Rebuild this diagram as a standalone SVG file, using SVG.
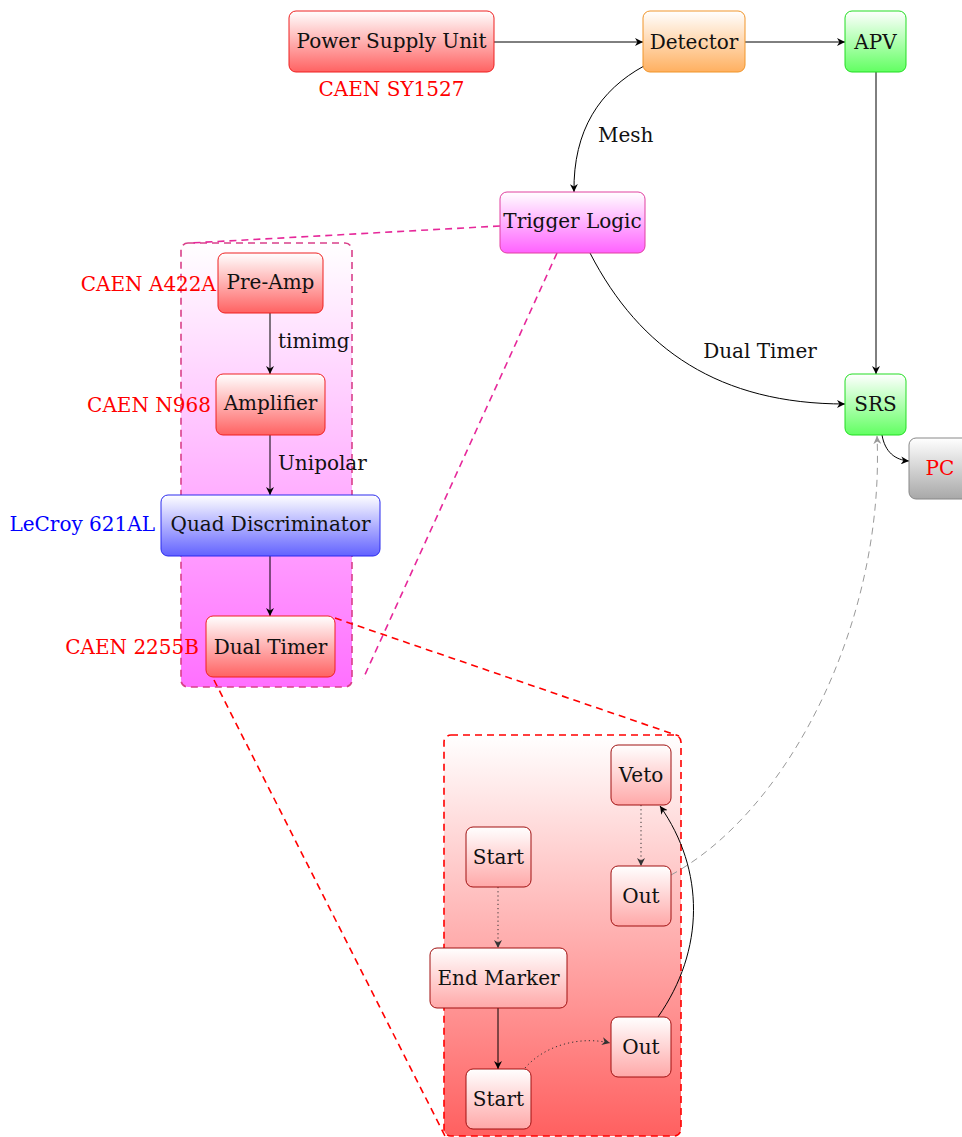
<svg xmlns="http://www.w3.org/2000/svg" width="962" height="1137" viewBox="0 0 962 1137">
<defs>
<linearGradient id="gRed" x1="0" y1="0" x2="0" y2="1"><stop offset="0" stop-color="#ffffff"/><stop offset="1" stop-color="#ff6262"/></linearGradient>
<linearGradient id="gRedL" x1="0" y1="0" x2="0" y2="1"><stop offset="0" stop-color="#ffffff"/><stop offset="1" stop-color="#ffa8a8"/></linearGradient>
<linearGradient id="gOr" x1="0" y1="0" x2="0" y2="1"><stop offset="0" stop-color="#ffffff"/><stop offset="1" stop-color="#ffb060"/></linearGradient>
<linearGradient id="gGr" x1="0" y1="0" x2="0" y2="1"><stop offset="0" stop-color="#ffffff"/><stop offset="1" stop-color="#62ff62"/></linearGradient>
<linearGradient id="gMag" x1="0" y1="0" x2="0" y2="1"><stop offset="0" stop-color="#ffffff"/><stop offset="1" stop-color="#ff62ff"/></linearGradient>
<linearGradient id="gMagC" x1="0" y1="0" x2="0" y2="1"><stop offset="0" stop-color="#ffffff"/><stop offset="1" stop-color="#ff70ff"/></linearGradient>
<linearGradient id="gBl" x1="0" y1="0" x2="0" y2="1"><stop offset="0" stop-color="#ffffff"/><stop offset="1" stop-color="#6262ff"/></linearGradient>
<linearGradient id="gGy" x1="0" y1="0" x2="0" y2="1"><stop offset="0" stop-color="#ffffff"/><stop offset="1" stop-color="#a8a8a8"/></linearGradient>
<linearGradient id="gRedC" x1="0" y1="0" x2="0" y2="1"><stop offset="0" stop-color="#ffffff"/><stop offset="1" stop-color="#ff6060"/></linearGradient>
<marker id="ar" viewBox="0 0 10 10" refX="10" refY="5" markerWidth="8" markerHeight="8" markerUnits="userSpaceOnUse" orient="auto"><path d="M0,0 L10,5 L0,10 L3,5 Z" fill="#000"/></marker>
<marker id="arg" viewBox="0 0 10 10" refX="10" refY="5" markerWidth="8" markerHeight="8" markerUnits="userSpaceOnUse" orient="auto"><path d="M0,0 L10,5 L0,10 L3,5 Z" fill="#999"/></marker>
<marker id="ard" viewBox="0 0 10 10" refX="10" refY="5" markerWidth="8" markerHeight="8" markerUnits="userSpaceOnUse" orient="auto"><path d="M0,0 L10,5 L0,10 L3,5 Z" fill="#333"/></marker>
</defs>
<style>
text{font-family:"DejaVu Serif","Liberation Serif",serif;font-size:20px;fill:#111}
.c{text-anchor:middle;dominant-baseline:central}
.r{text-anchor:end;dominant-baseline:central}
.l{text-anchor:start;dominant-baseline:central}
.red{fill:#ff0000}
.blue{fill:#0000ff}
.e{fill:none;stroke:#000;stroke-width:1}
.dot{fill:none;stroke:#333;stroke-width:1;stroke-dasharray:1.2,3}
.pd{fill:none;stroke:#e6289a;stroke-width:1.6;stroke-dasharray:7,5}
.rd{fill:none;stroke:#ff0000;stroke-width:1.6;stroke-dasharray:7,5}
.nr{fill:url(#gRed);stroke:#ee2020;stroke-width:1}
.ni{fill:url(#gRedL);stroke:#a01010;stroke-width:1}
</style>
<g id="containers">
<rect x="181" y="243" width="171" height="444" rx="7" fill="url(#gMagC)" stroke="#d9408a" stroke-width="1.6" stroke-dasharray="7,5"/>
<rect x="444" y="735" width="237" height="401" rx="7" fill="url(#gRedC)" stroke="#ff0000" stroke-width="1.6" stroke-dasharray="7,5"/>
</g>
<g id="zoomlines">
<path class="pd" d="M500,226 L190,243"/>
<path class="pd" d="M557,253 L363,679"/>
<path class="rd" d="M335,618 L679,736"/>
<path class="rd" d="M214,680 L445,1136"/>
</g>
<g id="connectors">
<path class="e" d="M494,42 L643,42" marker-end="url(#ar)"/>
<path class="e" d="M745,42 L845,42" marker-end="url(#ar)"/>
<path class="e" d="M876,72 L876,374" marker-end="url(#ar)"/>
<path class="e" d="M644,66 C600,90 573,130 574,192" marker-end="url(#ar)"/>
<path class="e" d="M590,253 C640,350 720,404 845,404" marker-end="url(#ar)"/>
<path class="e" d="M882,435 C885,452 895,460 909,461" marker-end="url(#ar)"/>
<path class="e" d="M270,313 L270,374" marker-end="url(#ar)"/>
<path class="e" d="M270,435 L270,495" marker-end="url(#ar)"/>
<path class="e" d="M270,556 L270,616" marker-end="url(#ar)"/>
<path fill="none" stroke="#999" stroke-width="1" stroke-dasharray="7,5" d="M671,875 C790,810 885,620 877,436" marker-end="url(#arg)"/>
<path class="dot" d="M641,805 L641,866" marker-end="url(#ard)"/>
<path class="dot" d="M498,887 L498,948" marker-end="url(#ard)"/>
<path class="e" d="M498,1008 L498,1069" marker-end="url(#ar)"/>
<path class="dot" d="M525,1068 C545,1045 580,1036 610,1043" marker-end="url(#ard)"/>
<path class="e" d="M658,1017 C705,950 705,870 660,806" marker-end="url(#ar)"/>
<text class="l" x="598" y="135">Mesh</text>
<text class="c" x="760" y="351">Dual Timer</text>
<text class="l" x="278" y="341">timimg</text>
<text class="l" x="278" y="463">Unipolar</text>
</g>
<g id="psu"><rect x="289" y="11" width="205" height="61" rx="7" class="nr"/><text class="c" x="391.5" y="41">Power Supply Unit</text><text class="c red" x="391.5" y="89">CAEN SY1527</text></g>
<g id="detector"><rect x="643" y="11" width="102" height="61" rx="7" fill="url(#gOr)" stroke="#f0952a" stroke-width="1"/><text class="c" x="694" y="42">Detector</text></g>
<g id="apv"><rect x="845" y="11" width="61" height="61" rx="7" fill="url(#gGr)" stroke="#22dd22" stroke-width="1"/><text class="c" x="875.5" y="42">APV</text></g>
<g id="trigger"><rect x="500" y="192" width="145" height="61" rx="7" fill="url(#gMag)" stroke="#e040a0" stroke-width="1"/><text class="c" x="572.5" y="221">Trigger Logic</text></g>
<g id="srs"><rect x="845" y="374" width="61" height="61" rx="7" fill="url(#gGr)" stroke="#22dd22" stroke-width="1"/><text class="c" x="875.5" y="404">SRS</text></g>
<g id="pc"><rect x="909" y="438" width="70" height="61" rx="7" fill="url(#gGy)" stroke="#888" stroke-width="1"/><text class="c red" x="940" y="468">PC</text></g>
<g id="preamp"><rect x="218" y="253" width="105" height="60" rx="7" class="nr"/><text class="c" x="270.5" y="282">Pre-Amp</text><text class="r red" x="216" y="284">CAEN A422A</text></g>
<g id="amplifier"><rect x="216" y="374" width="109" height="61" rx="7" class="nr"/><text class="c" x="270.5" y="403">Amplifier</text><text class="r red" x="211" y="405">CAEN N968</text></g>
<g id="quad"><rect x="161" y="495" width="219" height="61" rx="7" fill="url(#gBl)" stroke="#2b2bee" stroke-width="1"/><text class="c" x="270.5" y="524">Quad Discriminator</text><text class="r blue" x="155" y="524">LeCroy 621AL</text></g>
<g id="dualtimer"><rect x="206" y="616" width="129" height="61" rx="7" class="nr"/><text class="c" x="270.5" y="647">Dual Timer</text><text class="r red" x="199" y="647">CAEN 2255B</text></g>
<g id="veto"><rect x="611" y="745" width="60" height="60" rx="7" class="ni"/><text class="c" x="641" y="775">Veto</text></g>
<g id="out1"><rect x="611" y="866" width="60" height="60" rx="7" class="ni"/><text class="c" x="641" y="896">Out</text></g>
<g id="start1"><rect x="466" y="827" width="65" height="60" rx="7" class="ni"/><text class="c" x="498.5" y="857">Start</text></g>
<g id="endmarker"><rect x="430" y="948" width="137" height="60" rx="7" class="ni"/><text class="c" x="498.5" y="978">End Marker</text></g>
<g id="out2"><rect x="611" y="1017" width="60" height="60" rx="7" class="ni"/><text class="c" x="641" y="1047">Out</text></g>
<g id="start2"><rect x="466" y="1069" width="65" height="60" rx="7" class="ni"/><text class="c" x="498.5" y="1099">Start</text></g>
</svg>
